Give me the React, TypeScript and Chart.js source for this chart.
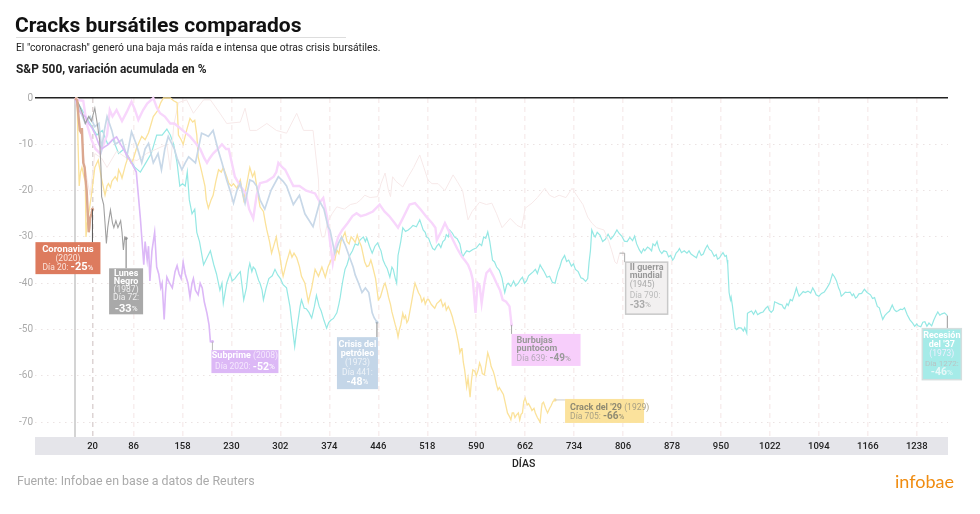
import React, { useEffect, useRef } from "react";
import { Chart, registerables } from "chart.js";

Chart.register(...registerables);

type Pt = [number, number];

const xTickPositions = [0, 25.7, 86, 158, 230, 302, 374, 446, 518, 590, 662, 734, 806, 878, 950, 1022, 1094, 1166, 1238];
const xTickLabels = ["", "20", "86", "158", "230", "302", "374", "446", "518", "590", "662", "734", "806", "878", "950", "1022", "1094", "1166", "1238"];
const yTicks = [0, -10, -20, -30, -40, -50, -60, -70];

const coronavirus: Pt[] = [[0,0],[3,-0.5],[5,-4],[7,-7],[9,-7.5],[10,-6.5],[12,-14],[14,-15],[15,-17],[17,-20],[18,-23],[20,-29],[21,-28],[22,-26],[24,-25],[25.5,-24]];

const lunesNegro: Pt[] = [[0,0],[5,-1.2],[10,-3],[15,-5.5],[20,-4],[24,-5],[29,-2.2],[33,-6],[36,-9],[38,-15],[39,-21.3],[42,-23],[44,-27],[46,-31.4],[48,-28],[50,-26],[52,-24.2],[55,-27],[57,-28],[60,-26.5],[63,-28],[67,-26.5],[69,-29],[71,-32.8],[73,-30],[75,-30.3]];

const subprime: Pt[] = [[0,0],[5,-2.6],[10,-3.5],[15,-4],[20,-5.5],[25,-6.5],[30,-8],[35,-10],[39,-11],[44,-10.5],[49,-10],[55,-9],[61,-8.4],[67,-10],[73,-11.5],[78,-12.8],[83,-14],[90,-16],[93,-21],[96,-26],[98,-30],[101,-36],[103,-31],[106,-35],[108,-32],[110,-39.5],[113,-33],[117,-29],[120,-36.5],[123,-38],[126,-41],[128,-40],[131,-47.8],[133,-42],[135,-38.7],[139,-40],[143,-41],[147,-37.5],[150,-36.2],[153,-38],[156,-39],[159,-35.5],[162,-38],[166,-40],[169,-43],[172,-40],[174,-39],[177,-41.5],[181,-42.5],[184,-40],[187,-41],[190,-44],[194,-46.5],[197,-49],[199,-52.6],[202,-52.6]];

const crisisPetroleo: Pt[] = [[0,0],[7,-2.6],[15,-5.5],[22,-4],[29,-6.2],[35,-5.5],[39,-11],[43,-7],[47,-4],[54,-7],[59,-10],[69,-9],[76,-12.7],[83,-7.3],[90,-10],[98,-14],[103,-11],[108,-9.8],[115,-14],[122,-12],[127,-15.5],[132,-11],[137,-8.3],[146,-11],[150,-13],[157,-15.5],[162,-14],[167,-12.7],[177,-14],[186,-7.6],[192,-8],[196,-8.3],[203,-7],[210,-11],[216,-14],[223,-17.7],[228,-20],[233,-22.7],[238,-20],[243,-18.4],[250,-22.7],[257,-17.7],[262,-18],[267,-19],[272,-22],[279,-24],[288,-20],[299,-17],[306,-18],[311,-19],[321,-23],[330,-21],[338,-25],[350,-27.8],[360,-22.4],[366,-24],[372,-27.8],[375,-28.5],[382,-33.5],[387,-31.5],[392,-30],[398,-32],[404,-34.5],[409,-36.5],[412,-38.2],[417,-40],[422,-42],[427,-41],[432,-42],[437,-46.4],[440,-47.5],[444,-48.4]];

const burbuja: Pt[] = [[0,0],[6,-0.5],[12,-0.6],[17,-5.5],[24,-9],[30,-11],[37,-12],[42,-10],[47,-8],[51,-2.6],[55,-4],[61,-2.6],[69,-5],[76,-3],[83,-0.8],[88,-2.5],[93,-4.7],[100,-2.6],[106,-1.2],[115,0],[120,-2],[125,-3.3],[132,-4],[140,-5.5],[146,-5.5],[152,-6.2],[160,-7.2],[169,-8.3],[176,-9.5],[184,-11],[190,-13],[194,-14],[198,-13],[203,-12],[210,-11],[216,-10],[222,-11],[226,-11],[235,-17],[243,-19],[251,-20.6],[256,-24],[262,-26],[267,-21],[272,-18.4],[282,-18],[292,-17],[296,-16],[299,-14],[305,-15],[309,-15.5],[321,-19],[330,-19],[340,-20],[353,-20.6],[360,-22.5],[365,-21.6],[371,-26],[375,-31],[379,-35.6],[383,-32],[387,-30],[393,-28.5],[401,-27],[408,-25.5],[414,-24.9],[420,-25.5],[428,-25.2],[438,-24.5],[448,-23],[455,-24.5],[462,-25.5],[470,-27],[475,-28],[482,-26],[492,-23],[500,-22.7],[508,-24],[517,-25.7],[525,-27],[530,-28],[532,-30.7],[538,-29],[544,-27],[550,-28.8],[556,-30.7],[562,-32.5],[569,-34.3],[574,-35.2],[578,-36],[582,-37.5],[585,-39.3],[589,-46.4],[592,-40],[595,-40.5],[598,-44.3],[602,-40],[605,-37.8],[610,-37],[615,-38.4],[620,-40],[625,-41.5],[629,-43.6],[634,-44],[639,-45],[642,-49]];

const crack29: Pt[] = [[0,0],[3,0],[4,-8],[6,-19],[8,-16],[10,-15],[13,-17],[15,-18],[16,-30],[18,-27],[20,-25],[24,-21],[29,-15],[34,-13.4],[39,-17.5],[44,-21],[47,-19],[49,-18.5],[52,-19.3],[54,-18],[59,-17],[62,-17.8],[64,-15.5],[67,-16.4],[69,-17.3],[74,-14.5],[78,-12.7],[82,-14],[85,-13.5],[90,-11],[94,-9.6],[98,-8.3],[103,-9],[108,-7.5],[112,-5.5],[115,-4],[119,-3.2],[122,-2.6],[126,-1],[130,0],[135,0],[140,0],[145,-0.6],[150,-1],[152,-8],[156,-9],[159,-10],[164,-7],[169,-4.4],[173,-5.2],[176,-4.8],[179,-8],[181,-12.7],[186,-15.8],[191,-19],[193,-22],[196,-23.8],[200,-22],[203,-21],[207,-18],[211,-15.5],[215,-16],[218,-15],[223,-17],[226,-18.4],[230,-19],[233,-18.5],[238,-19.5],[243,-17.7],[248,-22],[252,-19],[257,-15],[261,-17],[264,-16],[268,-20],[272,-23.5],[277,-24.5],[280,-27],[282,-28.5],[286,-31],[289,-33.5],[293,-31.5],[296,-30],[298,-32],[301,-34],[304,-37],[306,-38.5],[311,-35.5],[316,-33],[319,-34.4],[322,-33.5],[326,-34.5],[330,-36.4],[333,-38.5],[338,-40],[343,-44],[348,-41],[353,-37],[358,-38.5],[363,-36.5],[368,-38.7],[372,-36.5],[378,-34.5],[382,-35],[385,-32.8],[388,-33.6],[391,-31],[397,-29],[400,-31],[403,-31.5],[406,-30],[409,-30.5],[412,-31.2],[415,-29.6],[418,-31],[421,-32],[426,-35.4],[429,-36.4],[432,-36.2],[435,-35],[437,-36],[442,-39],[446,-43.6],[449,-43],[451,-42],[454,-40.5],[456,-40],[459,-41.6],[461,-43],[464,-44.6],[466,-46.2],[471,-49],[473,-50],[475,-51.6],[477,-50],[479,-49],[482,-46.5],[484,-47.6],[486,-47],[488,-48.5],[490,-48],[495,-44],[498,-41.5],[500,-40],[503,-41.2],[505,-42],[508,-42.8],[510,-44],[513,-43.2],[515,-44.5],[518,-43.5],[520,-43.5],[524,-44.6],[529,-45.4],[532,-44.4],[535,-44],[538,-43.5],[541,-45],[544,-44.3],[546,-45.8],[549,-45],[552,-46],[555,-47.3],[557,-48.5],[559,-49.5],[561,-50.8],[564,-53],[566,-55],[568,-54.2],[569,-54],[571,-57],[573,-58.7],[576,-62.4],[578,-60.5],[581,-64.6],[583,-61],[585,-58.7],[588,-59],[590,-60],[593,-58.7],[595,-57.2],[597,-58],[599,-59.5],[602,-59.8],[605,-57],[607,-55],[610,-56.5],[612,-58],[615,-59],[617,-60],[620,-62],[622,-63],[624,-62.5],[626,-63],[628,-63.5],[630,-64],[633,-66],[636,-68],[639,-68.8],[641,-69.5],[643,-68],[645,-68],[647,-69],[649,-68.5],[652,-68],[654,-69.5],[656,-68.3],[658,-68],[660,-65.5],[662,-64.8],[665,-66.3],[667,-66],[670,-66.8],[672,-67.5],[675,-67],[677,-68],[680,-69],[684,-70],[686,-67],[687,-66],[689,-65.7],[692,-67],[695,-68],[698,-67],[700,-66.5],[703,-65.5],[706,-65.2]];

const guerra: Pt[] = [[0,0],[7,-5.5],[12,-12],[17,-17],[22,-21],[29,-12],[39,-13],[47,-15],[61,-11.5],[76,-13],[91,-13.5],[105,-12],[120,-11],[135,-10],[140,-15.5],[145,-6],[152,-1],[164,-0.4],[174,-3.3],[189,-0.4],[199,-0.4],[213,-3.3],[223,-5.5],[243,-5.2],[250,-2.2],[257,-7],[267,-7],[282,-5.5],[296,-7],[311,-7.6],[326,-3.3],[336,-7],[350,-7],[358,-17.7],[360,-27.9],[363,-30],[367,-30],[371,-27],[378,-25],[385,-23.5],[396,-24],[405,-23],[414,-22.7],[420,-22],[426,-21],[434,-21.5],[445,-21.3],[450,-18.5],[456,-16.2],[461,-20],[464,-21.3],[467,-17],[472,-18],[482,-19.2],[490,-17],[498,-15],[507,-12.3],[513,-15],[519,-17.7],[525,-18.5],[534,-18.5],[544,-20],[556,-16.6],[562,-18],[570,-20],[578,-26.3],[584,-24.5],[595,-22.5],[605,-23],[613,-22.7],[620,-25],[628,-28],[640,-26],[650,-27.5],[657,-28],[662,-23.8],[672,-22.7],[680,-21.5],[691,-19.5],[698,-21],[705,-21.5],[712,-21],[722,-21.5],[731,-19.5],[740,-21.5],[747,-23],[754,-25.7],[760,-27],[767,-28],[778,-28.5],[785,-31],[789,-32.8],[794,-35.4],[797,-35.8],[801,-33.5]];

const recesion37: Pt[] = [[0,0],[8,-2],[16,-4],[24,-6],[32,-8],[40,-7],[48,-10],[56,-9],[64,-12],[72,-11],[80,-13],[88,-15],[96,-16],[104,-14],[112,-12],[120,-8],[128,-8],[135,-6.7],[140,-8],[145,-10],[150,-14],[154,-19],[158,-18.5],[162,-19],[165,-16],[168,-22],[172,-25],[176,-24],[179,-29],[183,-31],[189,-36],[194,-34.5],[199,-33],[204,-36],[208,-38],[213,-41.5],[216,-40],[218,-44.3],[223,-40],[228,-37.8],[231,-39.5],[235,-39],[239,-38.2],[243,-37.5],[246,-41],[248,-43.6],[252,-41],[255,-37],[257,-35.7],[260,-37.5],[262,-36.5],[265,-37],[267,-38],[270,-39.4],[272,-40],[275,-41.5],[277,-43.6],[281,-41],[285,-39],[290,-38.4],[294,-37],[298,-38.2],[302,-39],[306,-40.3],[311,-41],[316,-45],[320,-50],[323,-53.7],[326,-50],[328,-48],[331,-45],[333,-43.6],[337,-45.4],[340,-45.5],[344,-46.3],[348,-47.5],[352,-45],[355,-42.6],[359,-45],[362,-46],[366,-48],[370,-49.7],[373,-48.5],[376,-48],[380,-47.6],[385,-46.4],[388,-44.5],[390,-43],[392,-41],[394,-39.3],[397,-37],[400,-36],[404,-34],[408,-33],[412,-31.5],[416,-31.8],[419,-30.7],[424,-30],[427,-31],[429,-30.2],[433,-32],[437,-33.5],[441,-32],[445,-31.3],[448,-32.4],[450,-33],[453,-35],[456,-36],[459,-36.8],[463,-38.7],[466,-36.5],[468,-37],[471,-39],[473,-40],[475,-34],[477,-32.5],[479,-31],[482,-28],[486,-28.8],[490,-28.5],[494,-28],[497,-27.5],[502,-27.8],[507,-26.3],[510,-27.6],[512,-28.5],[515,-29],[517,-30],[520,-30.3],[523,-31.5],[526,-32.5],[529,-32.8],[532,-32],[535,-31.5],[538,-32.3],[541,-31],[544,-30.6],[546,-29.5],[549,-30],[551,-28.5],[555,-29.2],[558,-30],[562,-30.4],[566,-31.5],[568,-33],[570,-34.3],[573,-33.6],[576,-33],[580,-33.2],[585,-32.7],[590,-32.4],[595,-31.5],[598,-31.9],[601,-30],[604,-30.3],[607,-28.9],[610,-31],[612,-33],[614,-35],[617,-35.4],[620,-36.5],[624,-37.2],[628,-38.9],[630,-40.5],[632,-42],[635,-40.3],[637,-40],[641,-40.7],[645,-39.5],[648,-40.6],[652,-40],[655,-39.2],[658,-38.7],[661,-40],[664,-39.5],[667,-38.4],[670,-38],[674,-37.5],[677,-37],[680,-37.9],[684,-36],[687,-36.8],[690,-37.5],[694,-38.7],[698,-38.5],[702,-39.8],[706,-40],[710,-37.6],[713,-36.5],[716,-35],[720,-34],[723,-35.3],[726,-35],[730,-36.3],[733,-35.8],[736,-37],[740,-37.5],[744,-38.8],[747,-39],[751,-39.6],[754,-39],[756,-35.5],[758,-33],[760,-28.5],[763,-29.6],[765,-30],[768,-29],[772,-29.6],[776,-31],[780,-30.5],[784,-29.4],[788,-30.5],[792,-29.8],[797,-28.5],[800,-29.2],[804,-29.8],[808,-30.9],[812,-31],[816,-30.1],[820,-30.8],[823,-29.8],[826,-31.5],[830,-32.8],[833,-33.5],[836,-32.6],[838,-33],[842,-32.2],[845,-32.5],[848,-33],[850,-31.5],[853,-31.9],[856,-31],[858,-32.2],[860,-33],[863,-33.6],[866,-33],[870,-33.2],[873,-34.3],[876,-34],[879,-35],[881,-34.6],[884,-33.5],[887,-33],[889,-32.5],[892,-33.4],[896,-33],[900,-33.5],[903,-33],[906,-33.7],[910,-34.1],[914,-34.5],[916,-33.6],[918,-33],[921,-34],[924,-33.7],[927,-32.6],[930,-31.8],[933,-32.7],[936,-33],[940,-34.2],[943,-33.8],[945,-34.8],[948,-34.5],[950,-34],[953,-33.4],[956,-34.2],[958,-34],[959,-35],[960,-36],[961,-39],[962,-42],[964,-43.6],[965,-43],[967,-45],[969,-47.5],[971,-49.7],[973,-50],[976,-49.6],[980,-49.7],[983,-50.3],[985,-49.6],[988,-50.8],[989,-46.5],[992,-46.2],[995,-46],[998,-46.7],[1001,-45.9],[1004,-46.8],[1008,-46.4],[1012,-46.2],[1016,-45.4],[1019,-45],[1021,-45.8],[1024,-46.3],[1027,-45.8],[1029,-44],[1032,-44.2],[1036,-44.5],[1040,-44.7],[1042,-45.3],[1044,-45.5],[1047,-44.4],[1049,-44.8],[1052,-43.5],[1055,-43.8],[1058,-42.5],[1061,-41],[1063,-42],[1065,-42.8],[1068,-42.3],[1071,-41.8],[1074,-42],[1078,-41.7],[1082,-42.1],[1085,-41],[1088,-41.8],[1090,-42.5],[1094,-42.8],[1098,-42.2],[1102,-41.9],[1106,-41],[1110,-40],[1112,-39],[1114,-38],[1117,-38.6],[1120,-39.5],[1123,-41],[1125,-41.6],[1127,-42.8],[1130,-42.4],[1133,-41.9],[1136,-42],[1140,-41.9],[1143,-42.7],[1145,-42.3],[1148,-43.2],[1150,-43],[1153,-42.3],[1157,-42.2],[1161,-41.3],[1165,-42],[1170,-42.5],[1173,-43.3],[1176,-43.1],[1180,-45],[1183,-45.3],[1185,-46.4],[1188,-47.8],[1191,-47],[1194,-46.5],[1198,-46],[1202,-44.7],[1205,-45.7],[1208,-46.1],[1210,-46],[1214,-45.6],[1217,-45.7],[1220,-45.3],[1224,-46.8],[1228,-47.9],[1232,-48.6],[1235,-49.3],[1238,-48.8],[1240,-49.2],[1244,-49.4],[1247,-48.4],[1250,-48.3],[1253,-49.3],[1256,-48.6],[1260,-49.2],[1263,-48],[1266,-47],[1269,-46.2],[1272,-46.9],[1275,-46.6],[1279,-46.4],[1283,-47]];

const seriesNames = ["Coronavirus", "Lunes Negro", "Subprime", "Crisis del petróleo", "Burbujas puntocom", "Crack del '29", "II guerra mundial", "Recesión del '37"];
const seriesData = [coronavirus, lunesNegro, subprime, crisisPetroleo, burbuja, crack29, guerra, recesion37];
const seriesColors = ["#dba78f", "#a0a0a0", "#dcb8f7", "#c8d8e8", "#f8d6fc", "#fbe29a", "#f7e9e9", "#95e8e4"];
const seriesWidths = [2.4, 1.1, 1.6, 1.7, 2.4, 1.3, 1, 1.2];

type Seg = { t: string; s: number; b?: boolean; c: string };
type Box = { i: number; dx: number; dy: number; w: number; h: number; fill: string; border?: string; align: "center" | "left"; pad?: number; lead: Pt[]; leadColor: string; rows: { y: number; segs: Seg[] }[] };

const W = "#ffffff";
const boxes: Box[] = [
  { i: 0, dx: -57, dy: 33, w: 65, h: 32, fill: "#dd7b5e", align: "center", lead: [[0, 33]], leadColor: "#555", rows: [
    { y: 7, segs: [{ t: "Coronavirus", s: 9.5, b: true, c: W }] },
    { y: 17, segs: [{ t: "(2020)", s: 8.5, c: "#fbe3da" }] },
    { y: 25.5, segs: [{ t: "Día 20: ", s: 8.5, c: "#fbe3da" }, { t: "-25", s: 11, b: true, c: W }, { t: "%", s: 8, c: W }] },
  ] },
  { i: 1, dx: -17, dy: 30, w: 34, h: 46, fill: "#a9a9a9", align: "center", lead: [[0, 30]], leadColor: "#777", rows: [
    { y: 5.5, segs: [{ t: "Lunes", s: 9, b: true, c: W }] },
    { y: 13.5, segs: [{ t: "Negro", s: 9, b: true, c: W }] },
    { y: 21.5, segs: [{ t: "(1987)", s: 8.5, c: "#eeeeee" }] },
    { y: 30, segs: [{ t: "Día 72:", s: 8.5, c: "#eeeeee" }] },
    { y: 41, segs: [{ t: "-33", s: 11, b: true, c: W }, { t: "%", s: 8, c: W }] },
  ] },
  { i: 2, dx: -1, dy: 8.5, w: 67, h: 23, fill: "#dcb8f6", align: "center", lead: [[0, 8.5]], leadColor: "#bbb", rows: [
    { y: 6, segs: [{ t: "Subprime ", s: 9, b: true, c: W }, { t: "(2008)", s: 8.5, c: "#f5e8fd" }] },
    { y: 17, segs: [{ t: "Día 2020: ", s: 8.5, c: "#f5e8fd" }, { t: "-52", s: 10.5, b: true, c: W }, { t: "%", s: 8, c: W }] },
  ] },
  { i: 3, dx: -40, dy: 15, w: 41, h: 52, fill: "#c4d6e8", align: "center", lead: [[0, 15]], leadColor: "#888", rows: [
    { y: 8, segs: [{ t: "Crisis del", s: 9, b: true, c: W }] },
    { y: 17, segs: [{ t: "petróleo", s: 9, b: true, c: W }] },
    { y: 26, segs: [{ t: "(1973)", s: 8.5, c: "#eef3f8" }] },
    { y: 36, segs: [{ t: "Día 441:", s: 8.5, c: "#eef3f8" }] },
    { y: 45, segs: [{ t: "-48", s: 10.5, b: true, c: W }, { t: "%", s: 8, c: W }] },
  ] },
  { i: 4, dx: 0, dy: 9, w: 69, h: 32, fill: "#f7cefb", align: "left", pad: 5, lead: [[0, 9]], leadColor: "#aaa", rows: [
    { y: 7, segs: [{ t: "Burbujas", s: 9, b: true, c: "#999" }] },
    { y: 15, segs: [{ t: "puntocom", s: 9, b: true, c: "#999" }] },
    { y: 25, segs: [{ t: "Día 639: ", s: 8.5, c: "#b5a8b8" }, { t: "-49", s: 10, b: true, c: "#999" }, { t: "%", s: 8, c: "#999" }] },
  ] },
  { i: 5, dx: 10, dy: -1, w: 79, h: 24, fill: "#fbe29c", align: "left", pad: 5, lead: [[10, 0]], leadColor: "#ccc", rows: [
    { y: 9, segs: [{ t: "Crack del '29 ", s: 9, b: true, c: "#8f8a72" }, { t: "(1929)", s: 8.5, c: "#a8a084" }] },
    { y: 18, segs: [{ t: "Día 705: ", s: 8.5, c: "#a8a084" }, { t: "-66", s: 10, b: true, c: "#8f8a72" }, { t: "%", s: 8, c: "#8f8a72" }] },
  ] },
  { i: 6, dx: 6, dy: 9, w: 42, h: 52, fill: "#f2f0f0", border: "#c9c9c9", align: "left", pad: 4, lead: [[5, 0], [5, 9]], leadColor: "#aaa", rows: [
    { y: 6, segs: [{ t: "II guerra", s: 9, b: true, c: "#999" }] },
    { y: 14, segs: [{ t: "mundial", s: 9, b: true, c: "#999" }] },
    { y: 23, segs: [{ t: "(1945)", s: 8.5, c: "#aaa" }] },
    { y: 34, segs: [{ t: "Día 790:", s: 8.5, c: "#bbb" }] },
    { y: 43, segs: [{ t: "-33", s: 10, b: true, c: "#aaa" }, { t: "%", s: 8, c: "#aaa" }] },
  ] },
  { i: 7, dx: -25, dy: 13, w: 39, h: 51, fill: "#a5ebe8", border: "#d4dede", align: "center", lead: [[0, 13]], leadColor: "#999", rows: [
    { y: 7, segs: [{ t: "Recesión", s: 9, b: true, c: W }] },
    { y: 16, segs: [{ t: "del '37", s: 9, b: true, c: W }] },
    { y: 25, segs: [{ t: "(1973)", s: 8.5, c: "#eef" }] },
    { y: 35, segs: [{ t: "Día 1272:", s: 8, c: "#b8c4c4" }] },
    { y: 44, segs: [{ t: "-46", s: 10.5, b: true, c: "#e8f8f8" }, { t: "%", s: 8, c: "#e8f8f8" }] },
  ] },
];

const boxesPlugin = {
  id: "endBoxes",
  afterDatasetsDraw(chart: any) {
    const ctx = chart.ctx;
    ctx.save();
    for (const b of boxes) {
      const pts = chart.getDatasetMeta(b.i).data;
      const end = pts[pts.length - 1];
      const ex = end.x;
      const ey = end.y;
      ctx.strokeStyle = b.leadColor;
      ctx.lineWidth = 1;
      ctx.setLineDash([]);
      ctx.beginPath();
      ctx.moveTo(ex, ey);
      for (const [lx, ly] of b.lead) ctx.lineTo(ex + lx, ey + ly);
      ctx.stroke();
      const x = ex + b.dx;
      const y = ey + b.dy;
      ctx.fillStyle = b.fill;
      ctx.fillRect(x, y, b.w, b.h);
      if (b.border) {
        ctx.strokeStyle = b.border;
        ctx.lineWidth = 1.5;
        ctx.strokeRect(x, y, b.w, b.h);
      }
      ctx.textBaseline = "middle";
      ctx.textAlign = "left";
      for (const row of b.rows) {
        let total = 0;
        const widths = row.segs.map((s) => {
          ctx.font = `${s.b ? "700" : "400"} ${s.s}px Roboto`;
          const m = ctx.measureText(s.t).width;
          total += m;
          return m;
        });
        let tx = b.align === "center" ? x + (b.w - total) / 2 : x + (b.pad || 0);
        row.segs.forEach((s, k) => {
          ctx.font = `${s.b ? "700" : "400"} ${s.s}px Roboto`;
          ctx.fillStyle = s.c;
          ctx.fillText(s.t, tx, y + row.y);
          tx += widths[k];
        });
      }
    }
    ctx.restore();
  },
};

const txt = (left: number, top: number, extra: React.CSSProperties): React.CSSProperties => ({
  position: "absolute", left, top, whiteSpace: "nowrap", fontFamily: "Roboto, sans-serif", lineHeight: 1, ...extra,
});

export default function App() {
  const ref = useRef<HTMLCanvasElement>(null);
  useEffect(() => {
    const chart = new Chart(ref.current as HTMLCanvasElement, {
      type: "line",
      data: {
        datasets: seriesData.map((d, i) => ({
          label: seriesNames[i],
          data: d.map(([x, y]) => ({ x, y })),
          borderColor: seriesColors[i],
          backgroundColor: seriesColors[i],
          borderWidth: seriesWidths[i],
          tension: 0,
          clip: false as any,
          pointRadius: (c: any) => (c.dataIndex === d.length - 1 && i < 6 ? 1.6 : 0),
          pointBorderWidth: 0,
        })),
      },
      options: {
        animation: false,
        responsive: false,
        layout: { padding: { left: 0, right: 32, top: 98, bottom: 59 } },
        plugins: { legend: { display: false }, tooltip: { enabled: false }, title: { display: false } },
        scales: {
          x: {
            type: "linear",
            min: -59,
            max: 1284,
            backgroundColor: "#e5e5ea",
            afterFit: (s: any) => { s.height = 18; },
            afterBuildTicks: (s: any) => { s.ticks = xTickPositions.map((value) => ({ value })); },
            border: { display: false, dash: (c: any) => (c.index === 0 ? [] : [5, 4]) } as any,
            grid: {
              drawTicks: false,
              color: (c: any) => (c.index === 0 ? "#d4d4d4" : c.index === 1 ? "#ddd4d4" : "#f8eeee"),
              lineWidth: (c: any) => (c.index === 0 ? 2 : 1.5),
            },
            ticks: {
              autoSkip: false,
              maxRotation: 0,
              padding: 4,
              color: "#222",
              font: { family: "Roboto", size: 9.5, weight: "500" as any },
              callback: (_v: any, i: number) => xTickLabels[i],
            },
          },
          y: {
            min: -73.2,
            max: 0,
            afterFit: (s: any) => { s.width = 35; },
            afterBuildTicks: (s: any) => { s.ticks = yTicks.map((value) => ({ value })); },
            border: { display: false, dash: (c: any) => (c.index === 0 ? [] : [1.5, 4.5]) } as any,
            grid: {
              drawTicks: false,
              color: (c: any) => (c.index === 0 ? "#222" : "#ebe3e3"),
              lineWidth: (c: any) => (c.index === 0 ? 1.4 : 1.1),
            },
            ticks: { padding: 2, color: "#aaa", font: { family: "Roboto", size: 10 } },
          },
        },
      },
      plugins: [boxesPlugin],
    } as any);
    return () => chart.destroy();
  }, []);

  return (
    <div style={{ position: "absolute", left: 0, top: 0, width: 980, height: 514, overflow: "hidden", background: "#fff" }}>
      <canvas ref={ref} width={980} height={514} style={{ position: "absolute", left: 0, top: 0, width: 980, height: 514 }} />
      <div style={txt(15, 15, { fontSize: 21, fontWeight: 700, color: "#111" })}>Cracks bursátiles comparados</div>
      <div style={{ position: "absolute", left: 16, top: 37, width: 330, height: 1, background: "#ddd" }} />
      <div style={txt(16, 43, { fontSize: 10.3, color: "#222" })}>El "coronacrash" generó una baja más raída e intensa que otras crisis bursátiles.</div>
      <div style={txt(16, 64, { fontSize: 11.9, fontWeight: 700, color: "#222" })}>S&amp;P 500, variación acumulada en %</div>
      <div style={txt(512, 459, { fontSize: 10.5, fontWeight: 500, color: "#222" })}>DÍAS</div>
      <div style={txt(17, 475, { fontSize: 12.4, color: "#aaa" })}>Fuente: Infobae en base a datos de Reuters</div>
      <div style={txt(895, 472, { fontSize: 18, color: "#f08c10", fontFamily: "Lato, sans-serif" })}>infobae</div>
    </div>
  );
}
